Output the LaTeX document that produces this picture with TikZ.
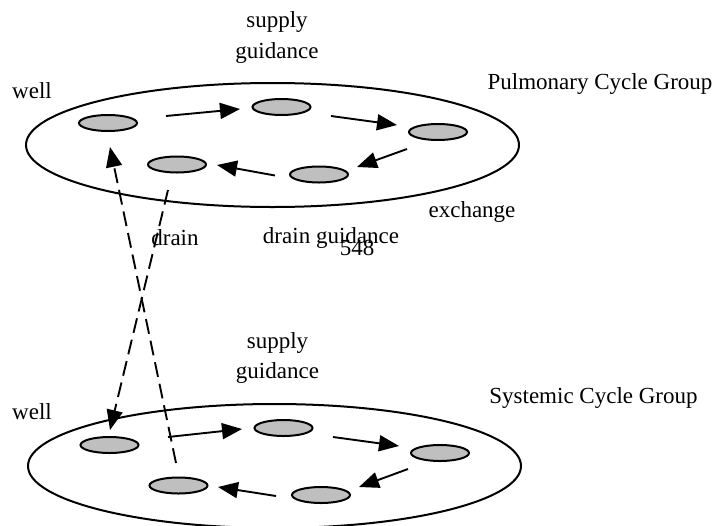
\documentclass[tikz,border=0pt]{standalone}
\usepackage{fontspec}
\setmainfont{Liberation Serif}
\usetikzlibrary{shapes.geometric,arrows.meta}
\begin{document}
\begin{tikzpicture}[x=1pt,y=-1pt,
  group/.style={draw,line width=2pt,ellipse,inner sep=0pt,minimum width=493pt,minimum height=124pt},
  cell/.style={draw,line width=2pt,ellipse,fill=gray!50!white,inner sep=0pt,minimum width=58pt,minimum height=16pt},
  arr/.style={line width=1.9pt,-{Triangle[length=20pt,width=16pt]}},
  darr/.style={line width=1.9pt,dash pattern=on 15pt off 7pt,-{Triangle[length=20pt,width=16pt]}},
  lbl/.style={font=\fontsize{23}{27}\selectfont,inner sep=0pt}]
\useasboundingbox (0,0) rectangle (717,525);
% groups
\node[group] (G1) at (272.5,145) {};
\node[group] (G2) at (274.5,466) {};
% upper cells
\node[cell] (p1) at (108,123) {};
\node[cell] (p2) at (281.5,107) {};
\node[cell] (p3) at (438,132) {};
\node[cell] (p4) at (177,164.5) {};
\node[cell] (p5) at (319,174.5) {};
% lower cells
\node[cell] (q1) at (109.5,445) {};
\node[cell] (q2) at (283.5,428) {};
\node[cell] (q3) at (440,453) {};
\node[cell] (q4) at (178.5,485.5) {};
\node[cell] (q5) at (321,495) {};
% upper arrows
\draw[arr] ([shift={(58,-7)}]p1.center) -- ([shift={(-41.5,2)}]p2.center);
\draw[arr] ([shift={(49.5,9)}]p2.center) -- ([shift={(-41,-7)}]p3.center);
\draw[arr] ([shift={(-31,17)}]p3.center) -- ([shift={(38,-7.5)}]p5.center);
\draw[arr] ([shift={(-44,1)}]p5.center) -- ([shift={(40,0.5)}]p4.center);
% lower arrows
\draw[arr] ([shift={(58.5,-8)}]q1.center) -- ([shift={(-41.5,1)}]q2.center);
\draw[arr] ([shift={(49.5,9)}]q2.center) -- ([shift={(-41,-7)}]q3.center);
\draw[arr] ([shift={(-32,16)}]q3.center) -- ([shift={(38,-8)}]q5.center);
\draw[arr] ([shift={(-45,1)}]q5.center) -- ([shift={(39.5,1.5)}]q4.center);
% dashed connectors
\draw[darr] ([shift={(-9,25.5)}]p4.center) -- ([shift={(0.5,-15)}]q1.center);
\draw[darr] ([shift={(-2.5,-22.5)}]q4.center) -- ([shift={(2,24)}]p1.center);
% labels
\node[lbl] (t1) at (277,22) {supply};
\node[lbl] (t2) at (277,53) {guidance};
\node[lbl] (t3) at (32,91) {well};
\node[lbl] (t4) at (600,84) {Pulmonary Cycle Group};
\node[lbl] (t5) at (472,212) {exchange};
\node[lbl] (t6) at (175,238) {drain};
\node[lbl] (t7) at (331,238) {drain guidance};
\node[lbl] (t8) at (357,248) {548};
\node[lbl] (t9) at (277.5,343) {supply};
\node[lbl] (t10) at (277.5,373) {guidance};
\node[lbl] (t11) at (32,412) {well};
\node[lbl] (t12) at (593.5,398) {Systemic Cycle Group};
\end{tikzpicture}
\end{document}
